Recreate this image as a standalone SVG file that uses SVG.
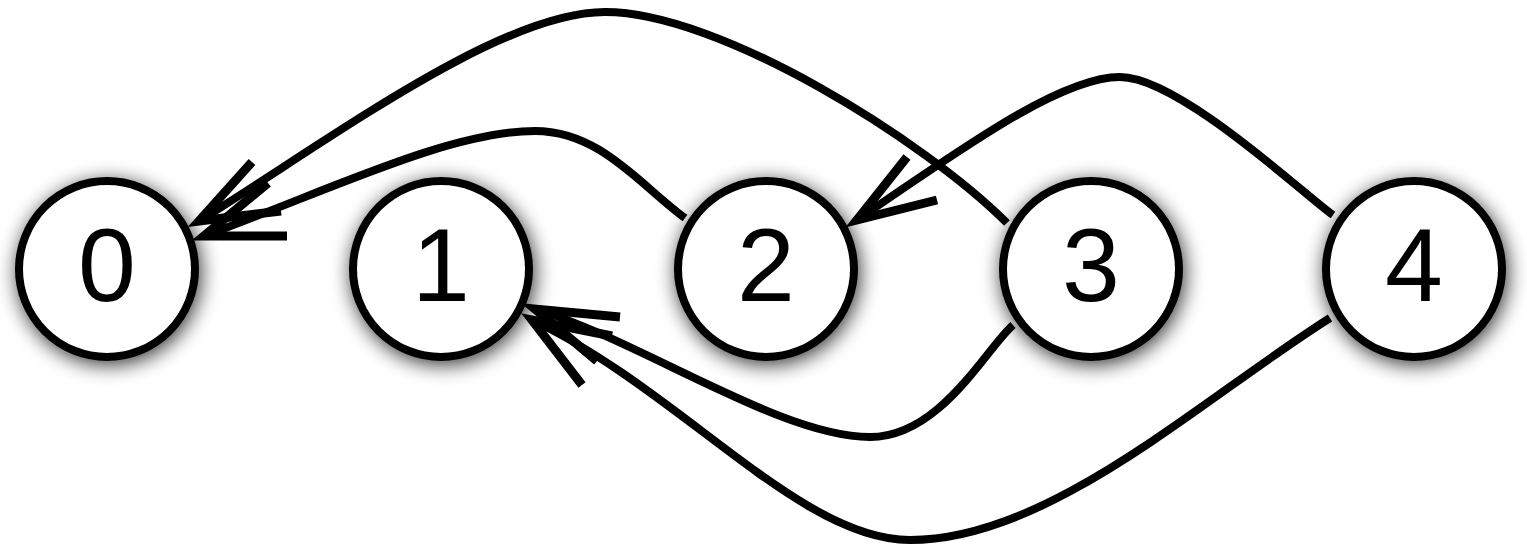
<svg xmlns="http://www.w3.org/2000/svg" width="1527" height="544" viewBox="0 0 1527 544">
<defs>
<filter id="sh" x="-30%" y="-30%" width="160%" height="160%">
<feGaussianBlur in="SourceAlpha" stdDeviation="10"/>
<feOffset dx="2" dy="4" result="b"/>
<feComponentTransfer><feFuncA type="linear" slope="0.8"/></feComponentTransfer>
<feMerge><feMergeNode/><feMergeNode in="SourceGraphic"/></feMerge>
</filter>
</defs>
<style>
.node circle{fill:#fff;stroke:#000;stroke-width:8}
.node text{font-family:"Liberation Sans",Arial,sans-serif;font-size:104px;text-anchor:middle;fill:#000}
.edge{fill:none;stroke:#000;stroke-width:8}
.head{fill:none;stroke:#000;stroke-width:9;stroke-linecap:butt;stroke-linejoin:miter}
</style>
<g id="node0" class="node"><circle cx="107" cy="269" r="88" filter="url(#sh)"/><text x="107" y="301">0</text></g>
<g id="node1" class="node"><circle cx="441" cy="269" r="88" filter="url(#sh)"/><text x="441" y="301">1</text></g>
<g id="node2" class="node"><circle cx="766" cy="269" r="88" filter="url(#sh)"/><text x="766" y="301">2</text></g>
<g id="node3" class="node"><circle cx="1091" cy="269" r="88" filter="url(#sh)"/><text x="1091" y="301">3</text></g>
<g id="node4" class="node"><circle cx="1414" cy="269" r="88" filter="url(#sh)"/><text x="1414" y="301">4</text></g>
<g id="connectors">
<path class="edge" d="M1007 223 C925 141 720 12 605 12 C500 12 330 140 199 221"/>
<path class="head" d="M252 162 L199 221 L281 211"/>
<path class="edge" d="M685 218 C640 185 600 131 535 131 C450 131 330 190 204 236"/>
<path class="head" d="M268 183 L204 236 L287 236"/>
<path class="edge" d="M1333 215 C1310 200 1180 77 1120 77 C1060 77 960 150 857 220"/>
<path class="head" d="M907 157 L857 220 L937 200"/>
<path class="edge" d="M1013 325 C985 350 940 437 870 437 C780 437 640 340 535 309"/>
<path class="head" d="M620 317 L535 309 L597 361"/>
<path class="edge" d="M1330 318 C1200 400 1050 540 910 540 C800 540 680 390 532 320"/>
<path class="head" d="M612 336 L532 320 L582 385"/>
</g>
</svg>
